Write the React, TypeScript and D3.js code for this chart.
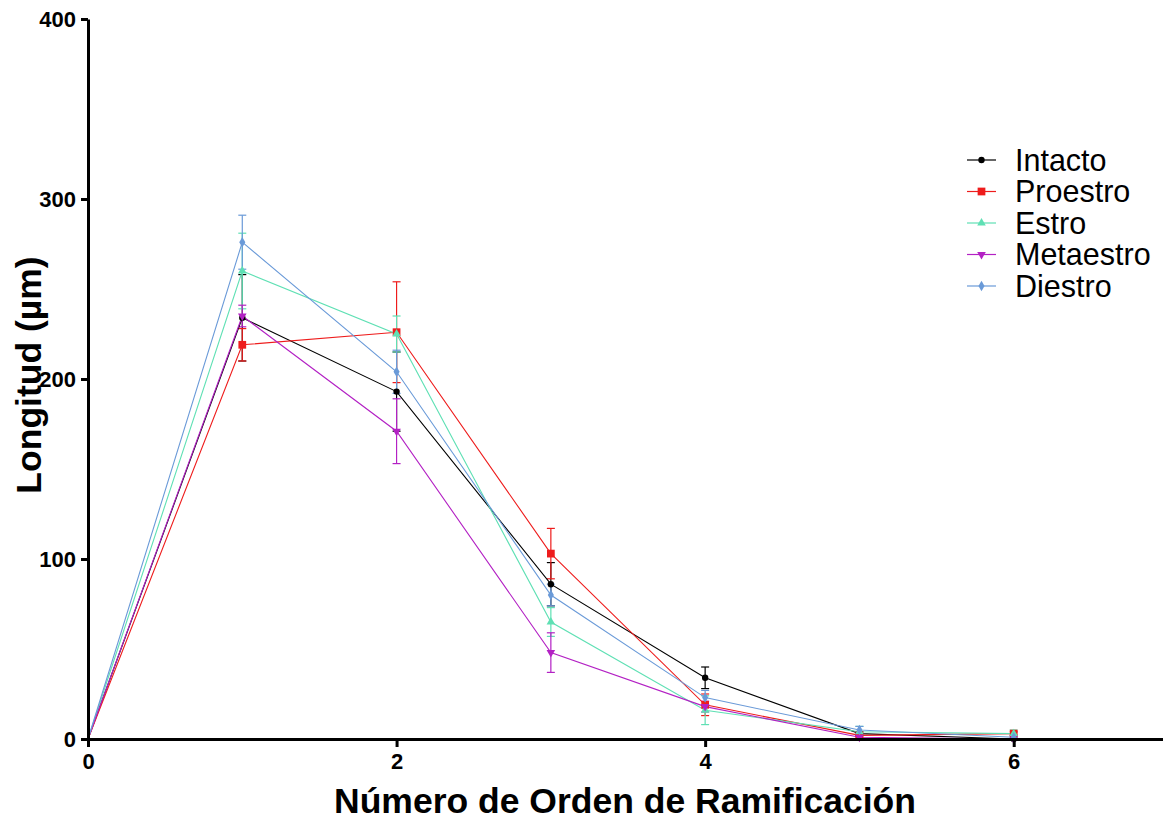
import React, { useRef, useEffect } from 'react';
import * as d3 from 'd3';

// branching order (x) and mean length per group, with SEM
const orders = [0, 1, 2, 3, 4, 5, 6];
const groupNames = ['Intacto', 'Proestro', 'Estro', 'Metaestro', 'Diestro'];
const intacto = [0, 234, 193, 86, 34, 3, 0];
const intactoErr = [0, 24, 22, 12, 6, 1, 0];
const proestro = [0, 219, 226, 103, 19, 2, 3];
const proestroErr = [0, 9, 28, 14, 6, 1, 1];
const estro = [0, 260, 225, 65, 16, 4, 3];
const estroErr = [0, 21, 10, 8, 8, 3, 2];
const metaestro = [0, 235, 171, 48, 18, 1, 0];
const metaestroErr = [0, 6, 18, 11, 3, 1, 0];
const diestro = [0, 276, 204, 80, 23, 5, 1];
const diestroErr = [0, 15, 12, 6, 4, 2, 1];
const xTicks = [0, 2, 4, 6];
const yTicks = [0, 100, 200, 300, 400];

const colors = ['#000000', '#ee1c1c', '#5fe0b4', '#b321c4', '#6a9ad8'];
const symbols = [d3.symbolCircle, d3.symbolSquare, d3.symbolTriangle, d3.symbolTriangle, d3.symbolDiamond];

const App = () => {
  const svgRef = useRef<SVGSVGElement>(null);

  useEffect(() => {
    const svg = d3.select(svgRef.current);
    svg.selectAll('*').remove();

    const width = 1163, height = 821;
    const margin = { top: 19, right: 0, bottom: 82, left: 88 };

    const x = d3.scaleLinear().domain([0, 7]).range([margin.left, width - margin.right + 5]);
    const y = d3.scaleLinear().domain([0, 400]).range([height - margin.bottom, margin.top]);

    const font = 'Arial, "Liberation Sans", sans-serif';
    const series = [
      { vals: intacto, err: intactoErr },
      { vals: proestro, err: proestroErr },
      { vals: estro, err: estroErr },
      { vals: metaestro, err: metaestroErr },
      { vals: diestro, err: diestroErr },
    ];

    const plot = svg.append('g');

    // error bars first
    series.forEach((s, i) => {
      const g = plot.append('g').attr('stroke', colors[i]).attr('stroke-width', 1.2);
      orders.forEach((o, k) => {
        if (s.err[k] <= 0) return;
        const cx = x(o);
        const top = y(s.vals[k] + s.err[k]);
        const bot = y(Math.max(0, s.vals[k] - s.err[k]));
        g.append('line').attr('x1', cx).attr('x2', cx).attr('y1', top).attr('y2', bot);
        g.append('line').attr('x1', cx - 4).attr('x2', cx + 4).attr('y1', top).attr('y2', top);
        g.append('line').attr('x1', cx - 4).attr('x2', cx + 4).attr('y1', bot).attr('y2', bot);
      });
    });

    const line = d3.line<number>().x((d, k) => x(orders[k])).y(d => y(d));

    series.forEach((s, i) => {
      plot.append('path')
        .datum(s.vals)
        .attr('fill', 'none')
        .attr('stroke', colors[i])
        .attr('stroke-width', 1.1)
        .attr('d', line);
    });

    series.forEach((s, i) => {
      const sym = d3.symbol().type(symbols[i]).size(i === 1 ? 60 : 32);
      plot.append('g').selectAll('path')
        .data(s.vals.slice(1))
        .enter()
        .append('path')
        .attr('d', sym)
        .attr('fill', colors[i])
        .attr('transform', (d, k) => `translate(${x(orders[k + 1])},${y(d)})${i === 3 ? ' rotate(180)' : ''}`);
    });

    // axes
    const xAxis = svg.append('g')
      .attr('transform', `translate(0,${y(0)})`)
      .call(d3.axisBottom(x).tickValues(xTicks).tickFormat(d3.format('d')).tickSize(8).tickSizeOuter(0));
    xAxis.select('.domain').attr('stroke-width', 3);
    xAxis.selectAll('.tick line').attr('stroke-width', 3);
    xAxis.selectAll('.tick text')
      .attr('font-family', font).attr('font-weight', 'bold').attr('font-size', 22).attr('dy', '0.85em').attr('fill', '#000');

    const yAxis = svg.append('g')
      .attr('transform', `translate(${x(0)},0)`)
      .call(d3.axisLeft(y).tickValues(yTicks).tickSize(7).tickSizeOuter(0));
    yAxis.select('.domain').attr('stroke-width', 3);
    yAxis.selectAll('.tick line').attr('stroke-width', 3);
    yAxis.selectAll('.tick text')
      .attr('font-family', font).attr('font-weight', 'bold').attr('font-size', 22).attr('x', -12).attr('fill', '#000');

    svg.append('text')
      .attr('x', 625).attr('y', 813)
      .attr('text-anchor', 'middle')
      .attr('font-family', font).attr('font-weight', 'bold').attr('font-size', 35.5)
      .text('Número de Orden de Ramificación');

    svg.append('text')
      .attr('transform', 'translate(41,375) rotate(-90)')
      .attr('text-anchor', 'middle')
      .attr('font-family', font).attr('font-weight', 'bold').attr('font-size', 35.5)
      .text('Longitud (µm)');

    // legend
    const legend = svg.append('g').attr('transform', 'translate(967,160)');
    groupNames.forEach((name, i) => {
      const row = legend.append('g').attr('transform', `translate(0,${i * 31.5})`);
      row.append('line').attr('x1', 0).attr('x2', 29).attr('y1', 0).attr('y2', 0)
        .attr('stroke', colors[i]).attr('stroke-width', 1.2);
      row.append('path')
        .attr('d', d3.symbol().type(symbols[i]).size(i === 1 ? 60 : 32)())
        .attr('fill', colors[i])
        .attr('transform', `translate(14.5,0)${i === 3 ? ' rotate(180)' : ''}`);
      row.append('text')
        .attr('x', 48).attr('y', 0).attr('dy', '0.36em')
        .attr('font-family', font).attr('font-size', 30.5)
        .text(name);
    });
  }, []);

  return (
    <svg ref={svgRef} width={1163} height={821}
      style={{ position: 'absolute', left: 0, top: 0, background: '#fff' }} />
  );
};

export default App;
